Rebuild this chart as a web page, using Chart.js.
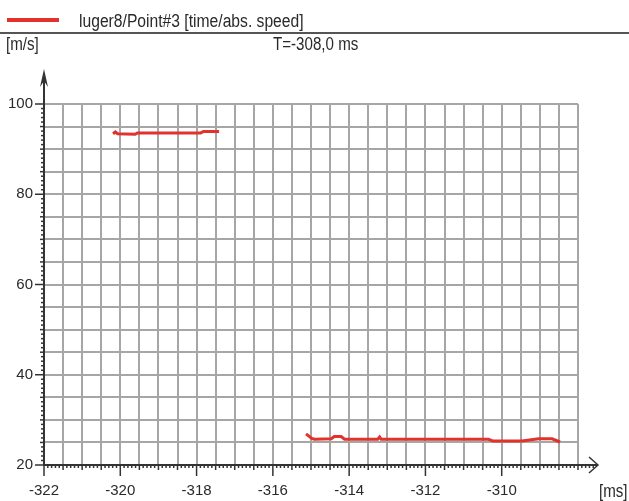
<!DOCTYPE html>
<html>
<head>
<meta charset="utf-8">
<script src="https://cdn.jsdelivr.net/npm/chart.js@4"></script>
<style>
  html, body { margin: 0; padding: 0; background: #fff; }
  #wrap { position: relative; width: 629px; height: 501px; font-family: "Liberation Sans", Arial, sans-serif; color: #2a2a2a; }
  canvas { position: absolute; left: 0; top: 0; }
  .lbl { position: absolute; font-size: 18px; white-space: nowrap; line-height: 20px; transform: scaleX(0.84); transform-origin: left center; }
  #legLine { position: absolute; left: 7px; top: 18px; width: 52px; height: 4px; background: #e2322b; }
  #rule { position: absolute; left: 0; top: 32px; width: 629px; height: 2px; background: #555; }
</style>
</head>
<body>
<div id="wrap">
  <canvas id="chart" width="629" height="501"></canvas>
  <div id="legLine"></div>
  <div class="lbl" style="left:79px; top:11px; transform: scaleX(0.87);">luger8/Point#3 [time/abs. speed]</div>
  <div id="rule"></div>
  <div class="lbl" style="left:6px; top:34px;">[m/s]</div>
  <div class="lbl" style="left:273px; top:34px;">T=-308,0 ms</div>
  <div class="lbl" style="left:599px; top:481px;">[ms]</div>
</div>
<script>
// time [ms] / abs. speed [m/s]
const upperTime  = [-320.19, -320.13, -320.07, -319.61, -319.55, -317.89, -317.82, -317.41];
const upperSpeed = [93.4, 93.8, 93.4, 93.3, 93.6, 93.6, 93.9, 93.9];

const lowerTime  = [-315.13, -314.98, -314.91, -314.47, -314.39, -314.21, -314.12, -313.25, -313.2, -313.16,
                    -310.35, -310.22, -309.47, -309.03, -308.68, -308.47];
const lowerSpeed = [26.9, 25.9, 25.7, 25.8, 26.3, 26.3, 25.7, 25.7, 26.2, 25.7,
                    25.7, 25.3, 25.3, 25.8, 25.8, 25.1];

const xLabels = [-322, -320, -318, -316, -314, -312, -310];
const yLabels = [20, 40, 60, 80, 100];

const xMin = -322, xMax = -308, xGridStep = 0.5;
const yMin = 20, yMax = 100, yGridStep = 5;

const lineColor = '#e2322b';
const axisColor = '#333';

function steps(a, b, s) {
  const out = [];
  for (let v = a; v <= b + 1e-9; v += s) out.push(Math.round(v * 100) / 100);
  return out;
}

// axis lines, arrows and small ticks like the original plotter
const axesPlugin = {
  id: 'axes',
  afterDraw(chart) {
    const { ctx, scales: { x, y } } = chart;
    const x0 = x.getPixelForValue(xMin);
    const y0 = y.getPixelForValue(yMin);
    ctx.save();
    ctx.strokeStyle = axisColor;
    ctx.fillStyle = axisColor;
    ctx.lineWidth = 2;
    ctx.beginPath();
    ctx.moveTo(x0, y0);
    ctx.lineTo(597, y0);
    ctx.moveTo(x0, y0);
    ctx.lineTo(x0, 74);
    ctx.stroke();
    // x arrow (open)
    ctx.lineWidth = 1.5;
    ctx.beginPath();
    ctx.moveTo(589, y0 - 8);
    ctx.lineTo(598, y0);
    ctx.lineTo(589, y0 + 8);
    ctx.stroke();
    // y arrow (filled narrow)
    ctx.beginPath();
    ctx.moveTo(x0, 69);
    ctx.lineTo(x0 - 4, 87);
    ctx.lineTo(x0, 81);
    ctx.lineTo(x0 + 4, 87);
    ctx.closePath();
    ctx.fill();
    // x ticks
    ctx.lineWidth = 1.5;
    steps(xMin, xMax + 0.4, 0.1).forEach(v => {
      const px = x.getPixelForValue(v);
      let len = 3;
      if (Math.abs(v * 2 - Math.round(v * 2)) < 1e-6) len = 5;
      if (xLabels.some(l => Math.abs(l - v) < 1e-6)) len = 11;
      ctx.beginPath();
      ctx.moveTo(px, y0);
      ctx.lineTo(px, y0 + len);
      ctx.stroke();
    });
    // y ticks
    steps(yMin, yMax, 1).forEach(v => {
      const py = y.getPixelForValue(v);
      let len = 3;
      if (v % 5 === 0) len = 4;
      if (yLabels.includes(v)) len = 9;
      ctx.beginPath();
      ctx.moveTo(x0 - len, py);
      ctx.lineTo(x0, py);
      ctx.stroke();
    });
    ctx.restore();
  }
};

new Chart(document.getElementById('chart'), {
  type: 'scatter',
  data: {
    datasets: [
      {
        data: upperTime.map((t, i) => ({ x: t, y: upperSpeed[i] })),
        showLine: true, borderColor: lineColor, borderWidth: 3, pointRadius: 0, tension: 0
      },
      {
        data: lowerTime.map((t, i) => ({ x: t, y: lowerSpeed[i] })),
        showLine: true, borderColor: lineColor, borderWidth: 3, pointRadius: 0, tension: 0
      }
    ]
  },
  options: {
    responsive: false,
    animation: false,
    layout: { padding: { top: 104, right: 51, left: 0, bottom: 0 } },
    plugins: { legend: { display: false }, tooltip: { enabled: false } },
    scales: {
      x: {
        type: 'linear', min: xMin, max: xMax,
        afterBuildTicks: s => { s.ticks = steps(xMin, xMax, xGridStep).map(v => ({ value: v })); },
        afterFit: s => { s.height = 36; },
        grid: { color: '#a6a6a6', lineWidth: 2, drawTicks: false },
        border: { display: false },
        ticks: {
          padding: 17, color: '#2a2a2a', maxRotation: 0, autoSkip: false,
          font: { family: '"Liberation Sans", Arial', size: 15 },
          callback: v => xLabels.includes(v) ? String(v) : ''
        }
      },
      y: {
        type: 'linear', min: yMin, max: yMax,
        afterBuildTicks: s => { s.ticks = steps(yMin, yMax, yGridStep).map(v => ({ value: v })); },
        afterFit: s => { s.width = 44; },
        grid: { color: '#a6a6a6', lineWidth: 2, drawTicks: false },
        border: { display: false },
        ticks: {
          padding: 11, color: '#2a2a2a', autoSkip: false,
          font: { family: '"Liberation Sans", Arial', size: 15 },
          callback: v => yLabels.includes(v) ? String(v) : ''
        }
      }
    }
  },
  plugins: [axesPlugin]
});
</script>
</body>
</html>
